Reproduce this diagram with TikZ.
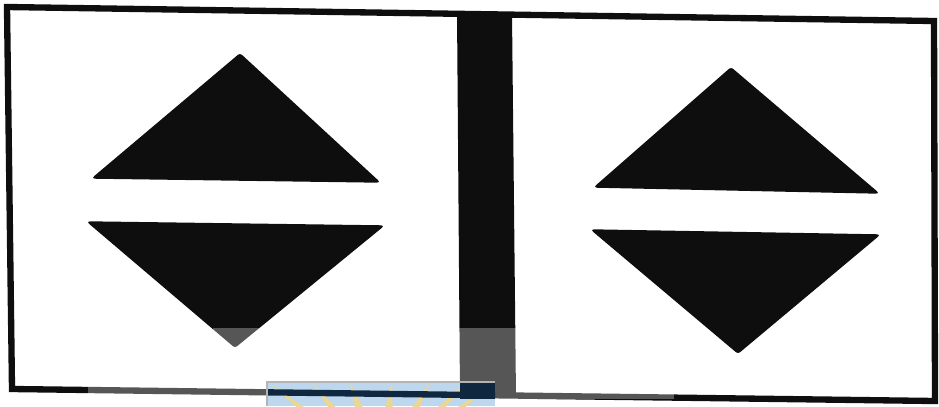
\documentclass[tikz,border=0pt]{standalone}
\usetikzlibrary{calc}
\definecolor{ink}{HTML}{0E0E0E}
\definecolor{stampBlue}{HTML}{BDD7EE}
\definecolor{stampNavy}{HTML}{10283F}
\definecolor{stampRay}{HTML}{EBD693}
\definecolor{stampEdge}{HTML}{B4B4B4}

\begin{document}
\begin{tikzpicture}[x=0.02cm,y=-0.02cm,
          frame/.style={draw=ink,line width=3.6pt,line join=miter},
          bar/.style={fill=ink},
          tri/.style={fill=ink,draw=ink,line width=0.8pt,
                      rounded corners=1.2pt},
          fade/.style={fill=white,fill opacity=0.3},
          stamp/.style={fill=stampBlue,draw=stampEdge,line width=0.8pt},
        ]
        \useasboundingbox (0,0) rectangle (939,406);
        % outer frame (scan is a little skewed)
        \draw[frame] (7,7) -- (934,21) -- (935,401) -- (12,389) -- cycle;
        % middle bar
        \fill[bar] (457,12) -- (512,14) -- (516,398) -- (460,397) -- cycle;
        % left pair
        \filldraw[tri] (240,54) -- (379,182) -- (93,178) -- cycle;
        \filldraw[tri] (88,222) -- (383,226) -- (235,347) -- cycle;
        % right pair
        \filldraw[tri] (731,68) -- (878,193) -- (595,187) -- cycle;
        \filldraw[tri] (592,230) -- (879,235) -- (738,353) -- cycle;
        % pale band of the scan
        \fill[fade] (213,328) rectangle (517,383);
        \fill[fade] (88,383) rectangle (674,399);
        % stamp at the foot
        \begin{scope}
          \clip (267,382) rectangle (495,406);
          \fill[stampBlue] (267,382) rectangle (495,406);
          \foreach \tx in {268,312,350,392,430,466,494} {
            \fill[stampRay] (\tx,382) -- (368,470) -- (394,470) -- cycle;
          }
          \fill[stampNavy] (460,382) rectangle (495,399);
          \draw[stampNavy,line width=3.6pt] (12,389) -- (935,401);
        \end{scope}
        \draw[stampEdge,line width=0.8pt] (267,406) -- (267,382) -- (495,382);
      \end{tikzpicture}
\end{document}
